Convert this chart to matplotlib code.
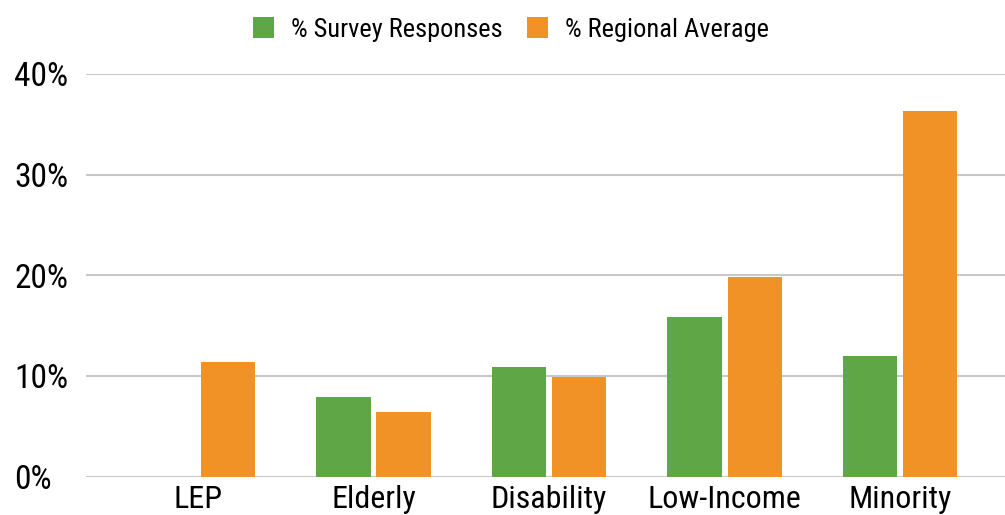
import numpy as np
from matplotlib import pyplot as plt
from matplotlib.ticker import FuncFormatter

# data
categories = ["LEP", "Elderly", "Disability", "Low-Income", "Minority"]
survey = [0.0, 7.9, 10.9, 15.9, 12.0]
regional = [11.4, 6.4, 9.9, 19.8, 36.3]
yticks = [0, 10, 20, 30, 40]

green = "#5fa646"
orange = "#f09225"
plt.rcParams["font.family"] = ["Roboto Condensed", "DejaVu Sans"]
plt.rcParams["font.stretch"] = "condensed"

fig = plt.figure(figsize=(10.05, 5.15), dpi=100)
ax = fig.add_axes([86 / 1005, 38.3 / 515, 1 - 86 / 1005, (476.7 - 73.9) / 515])

x = np.arange(len(categories))
w = 0.308
off = 0.171
ax.bar(x - off, survey, w, color=green, label="% Survey Responses", zorder=3)
ax.bar(x + off, regional, w, color=orange, label="% Regional Average", zorder=3)

ax.set_xlim(-0.638, 4.598)
ax.set_ylim(0, 40)
ax.set_yticks(yticks)
ax.yaxis.set_major_formatter(FuncFormatter(lambda v, p: "%d%%" % v))
ax.grid(axis="y", color="#c8c8c8", linewidth=1.5, zorder=0)
for s in ax.spines.values():
    s.set_visible(False)

ax.set_xticks(x)
ax.set_xticklabels(categories, fontsize=23)
ax.tick_params(axis="x", length=0, pad=6)
ax.tick_params(axis="y", length=0, pad=51.8, labelsize=24)
for t in ax.get_yticklabels():
    t.set_horizontalalignment("left")

fig.legend(loc="center", bbox_to_anchor=(511 / 1005, 1 - 29.5 / 515), ncol=2,
           frameon=False, fontsize=19, handlelength=0.8, handleheight=0.8,
           handletextpad=0.64, columnspacing=0.9)

fig.savefig("out.png", dpi=100)
